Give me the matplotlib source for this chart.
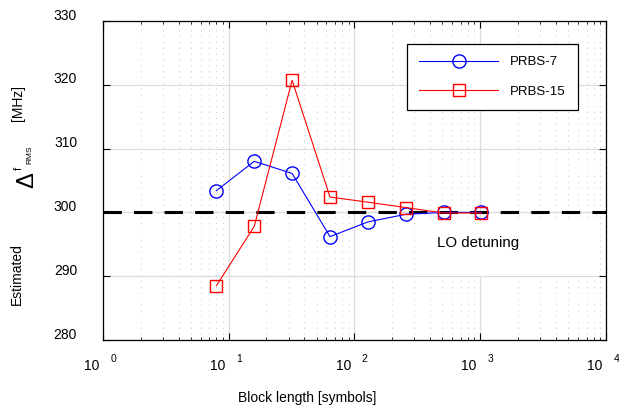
import matplotlib
matplotlib.use("Agg")
import matplotlib.pyplot as plt
from matplotlib.patches import Rectangle
from matplotlib.ticker import LogLocator, NullFormatter

plt.rcParams['font.family'] = ['Liberation Sans', 'DejaVu Sans']

block_len = [8, 16, 32, 64, 128, 256, 512, 1024]
prbs7 = [303.4, 308.0, 306.1, 296.2, 298.5, 299.7, 300.0, 300.0]
prbs15 = [288.5, 297.8, 320.7, 302.4, 301.6, 300.75, 299.9, 299.9]
lo_detuning = 300
decades = [0, 1, 2, 3, 4]
yticks = [280, 290, 300, 310, 320, 330]

fig = plt.figure(figsize=(6.19, 4.08), dpi=100)
ax = fig.add_axes([0.166, 0.1667, 0.813, 0.782])

ax.set_xscale('log')
ax.set_xlim(1, 1e4)
ax.set_ylim(280, 330)

# grid: solid majors, dotted minors along x
ax.xaxis.set_major_locator(LogLocator(base=10, numticks=10))
ax.xaxis.set_minor_locator(LogLocator(base=10, subs=range(2, 10), numticks=20))
ax.xaxis.set_minor_formatter(NullFormatter())
ax.set_yticks(yticks)
ax.grid(True, which='major', color='#dcdcdc', lw=0.9, ls='-')
ax.grid(True, which='minor', axis='x', color='#c8c8c8', lw=0.7, ls=(0, (1, 5)))
ax.set_axisbelow(True)

# white patch behind the annotation
ax.add_patch(Rectangle((0.621, 0.201), 0.362, 0.168, transform=ax.transAxes,
                       facecolor='white', edgecolor='none', zorder=1.5))

ax.axhline(lo_detuning, color='black', lw=2.2, dashes=(6, 4), zorder=2)
ax.plot(block_len, prbs7, color='blue', lw=0.8, marker='o', ms=9.5,
        mfc='none', mec='blue', mew=1.0, label='PRBS-7', zorder=3)
ax.plot(block_len, prbs15, color='red', lw=0.8, marker='s', ms=8,
        mfc='none', mec='red', mew=1.0, label='PRBS-15', zorder=3)

ax.text(0.665, 0.305, 'LO detuning', transform=ax.transAxes, fontsize=10.8,
        va='center', ha='left', zorder=4)

# ticks inside on all sides
ax.tick_params(which='both', direction='in', top=True, right=True)
ax.tick_params(which='major', length=5, width=0.8)
ax.tick_params(which='minor', length=2.5, width=0.6)
ax.set_xticklabels([])
ax.set_yticklabels([])
for sp in ax.spines.values():
    sp.set_linewidth(0.9)

# y tick labels, sitting a little above their ticks
for v in yticks:
    ax.annotate(str(v), xy=(0, v), xycoords=('axes fraction', 'data'),
                xytext=(-18.5, 3.8), textcoords='offset points',
                ha='right', va='center', fontsize=10)

# MATLAB-style x tick labels: base and raised exponent
for k in decades:
    ax.annotate('10', xy=(10 ** k, 0), xycoords=('data', 'axes fraction'),
                xytext=(-8, -18.5), textcoords='offset points',
                ha='center', va='center', fontsize=10)
    ax.annotate(str(k), xy=(10 ** k, 0), xycoords=('data', 'axes fraction'),
                xytext=(7.5, -13.5), textcoords='offset points',
                ha='center', va='center', fontsize=7.5)

fig.text(0.496, 0.0245, 'Block length [symbols]', ha='center', va='center', fontsize=10)

# y label pieces
fig.text(0.0275, 0.328, 'Estimated', rotation=90, ha='center', va='center', fontsize=10)
fig.text(0.0436, 0.559, '\u0394', rotation=90, ha='center', va='center', fontsize=17)
fig.text(0.031, 0.588, 'f', rotation=90, ha='center', va='center', fontsize=8)
fig.text(0.0485, 0.620, 'RMS', rotation=90, ha='center', va='center', fontsize=6)
fig.text(0.0285, 0.748, '[MHz]', rotation=90, ha='center', va='center', fontsize=10)

leg = ax.legend(loc='upper left', bbox_to_anchor=(0.605, 0.927), fontsize=9.5,
                frameon=True, fancybox=False, edgecolor='black', framealpha=1,
                handlelength=6.0, borderpad=0.9, labelspacing=1.3,
                handletextpad=0.9, borderaxespad=0)
leg.get_frame().set_linewidth(0.9)

fig.savefig('out.png', dpi=100)
